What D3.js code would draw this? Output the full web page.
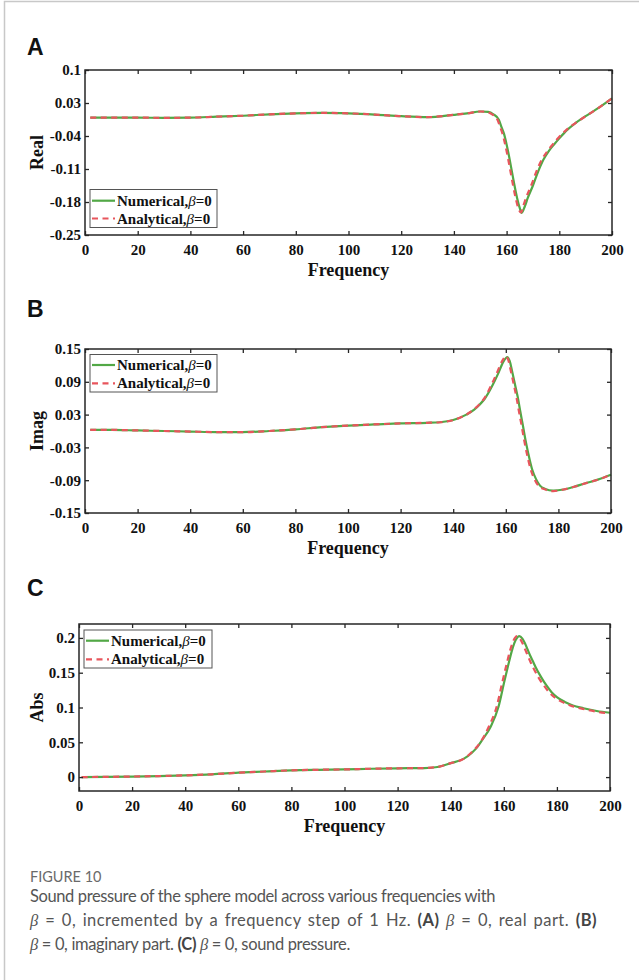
<!DOCTYPE html>
<html>
<head>
<meta charset="utf-8">
<script src="https://cdn.jsdelivr.net/npm/d3@7"></script>
<style>
  html, body { margin: 0; padding: 0; background: #fff; }
  svg { display: block; }
</style>
</head>
<body>
<svg id="chart" width="639" height="980"></svg>
<script>
// ---------------- DATA ----------------
const xTicks = [0, 20, 40, 60, 80, 100, 120, 140, 160, 180, 200];
const realTicks = [0.1, 0.03, -0.04, -0.11, -0.18, -0.25];
const imagTicks = [0.15, 0.09, 0.03, -0.03, -0.09, -0.15];
const absTicks = [0, 0.05, 0.1, 0.15, 0.2];
const seriesNames = ["Numerical,", "Analytical,"];

// Panel A: real part
const freqRealNum = [2,10,20,30,40,50,60,70,80,90,100,110,120,130,140,145,150,153,155,157,158,159,160,161,162,163,164,165,165.7,167,168,170,172,174,176,178,180,183,186,190,195,200];
const realNum = [-0.001,-0.001,-0.001,-0.0015,-0.001,0.001,0.003,0.006,0.008,0.009,0.008,0.0055,0.002,0.0,0.005,0.008,0.012,0.011,0.006,-0.005,-0.02,-0.035,-0.058,-0.085,-0.115,-0.145,-0.172,-0.193,-0.203,-0.188,-0.172,-0.145,-0.115,-0.09,-0.072,-0.058,-0.045,-0.027,-0.013,0.002,0.02,0.04];
const freqRealAna = [2,10,20,30,40,50,60,70,80,90,100,110,120,130,140,145,150,152.5,154.5,156.5,157.5,158.5,159.5,160.5,161.5,162.5,163.5,164.5,165.5,166.4,167.4,169.4,171.4,173.4,175.5,177.5,179.5,182.7,186,190,195,200];
const realAna = [-0.001,-0.001,-0.001,-0.0015,-0.001,0.001,0.003,0.006,0.008,0.009,0.008,0.0055,0.002,0.0,0.005,0.008,0.012,0.011,0.006,-0.005,-0.02,-0.036,-0.059,-0.086,-0.116,-0.146,-0.173,-0.194,-0.202,-0.187,-0.171,-0.144,-0.114,-0.09,-0.072,-0.058,-0.045,-0.027,-0.013,0.002,0.02,0.04];

// Panel B: imaginary part
const freqImagNum = [2,10,20,30,40,50,60,70,80,90,100,110,120,130,135,140,145,148,150,152,155,157,159,160.6,161.5,162.5,163.5,164.5,165.5,166.5,167.5,168.5,170,171.5,173,175,178,182,186,190,195,200];
const imagNum = [0.002,0.002,0.001,0.0,-0.001,-0.002,-0.002,0.0,0.003,0.007,0.010,0.012,0.014,0.015,0.016,0.020,0.030,0.039,0.048,0.059,0.084,0.104,0.126,0.135,0.128,0.107,0.085,0.063,0.036,0.010,-0.017,-0.040,-0.070,-0.088,-0.100,-0.106,-0.109,-0.107,-0.102,-0.096,-0.089,-0.080];
const freqImagAna = [2,10,20,30,40,50,60,70,80,90,100,110,120,130,135,140,145,148,150,152,154.5,156.5,158.5,160.1,161,162,163,164,165,166,167,168,169.5,171,172.6,175,178,182,186,190,195,200];
const imagAna = [0.002,0.002,0.001,0.0,-0.001,-0.002,-0.002,0.0,0.003,0.007,0.010,0.012,0.014,0.015,0.016,0.020,0.030,0.040,0.049,0.061,0.084,0.105,0.127,0.137,0.129,0.108,0.086,0.063,0.036,0.010,-0.017,-0.041,-0.071,-0.089,-0.101,-0.107,-0.110,-0.107,-0.102,-0.096,-0.089,-0.080];

// Panel C: absolute value
const freqAbsNum = [1,10,20,30,40,50,60,70,80,90,100,110,120,130,135,140,145,148,150,152,155,158,160,162,163,164,165,165.8,167,168,169,170,171,172,174,176,178,180,183,186,190,195,200];
const absNum = [0.0,0.0003,0.0008,0.0015,0.0025,0.004,0.0063,0.008,0.0097,0.0105,0.011,0.012,0.0126,0.013,0.0145,0.020,0.0265,0.035,0.043,0.054,0.072,0.101,0.134,0.166,0.181,0.193,0.200,0.2025,0.199,0.192,0.183,0.174,0.166,0.158,0.144,0.132,0.122,0.115,0.108,0.103,0.099,0.095,0.0925];
const freqAbsAna = [1,10,20,30,40,50,60,70,80,90,100,110,120,130,135,140,145,148,150,152,154.3,157.3,159.3,161.3,162.3,163.3,164.2,165,166.1,167.1,168.1,169.1,170.1,171.1,173.1,175.2,177.3,179.3,182.5,185.7,189.8,195,200];
const absAna = [0.0,0.0003,0.0008,0.0015,0.0025,0.004,0.0063,0.008,0.0097,0.0105,0.011,0.012,0.0126,0.013,0.0145,0.020,0.0265,0.036,0.044,0.055,0.072,0.101,0.134,0.166,0.181,0.193,0.200,0.2025,0.199,0.192,0.183,0.174,0.165,0.157,0.143,0.131,0.121,0.114,0.107,0.102,0.098,0.094,0.0915];

// ---------------- DRAWING ----------------
const svg = d3.select("#chart");
const GREEN = "#52a846";
const RED = "#e8555c";
const AXIS = "#262626";
const serif = "'Liberation Serif', 'Times New Roman', serif";

// outer frame
svg.append("rect").attr("x", 4.5).attr("y", 1.5).attr("width", 700).attr("height", 1000)
  .attr("fill", "none").attr("stroke", "#c8c8c8").attr("stroke-width", 1.5);

function panel(o) {
  const g = svg.append("g");
  const x = d3.scaleLinear().domain([0, 200]).range([o.l, o.r]);
  const y = d3.scaleLinear().domain(o.yDom).range([o.b, o.t]);

  // panel letter
  g.append("text").attr("x", 27).attr("y", o.letterY).text(o.letter)
    .attr("font-family", "'Liberation Sans', Arial, sans-serif").attr("font-weight", "bold")
    .attr("font-size", 23).attr("fill", "#111");

  const line = d3.line().x(d => x(d[0])).y(d => y(d[1])).curve(d3.curveMonotoneX);
  const numPts = o.fNum.map((f, i) => [f, o.vNum[i]]);
  const anaPts = o.fAna.map((f, i) => [f, o.vAna[i]]);

  g.append("path").attr("d", line(numPts)).attr("fill", "none")
    .attr("stroke", GREEN).attr("stroke-width", 2.2);
  g.append("path").attr("d", line(anaPts)).attr("fill", "none")
    .attr("stroke", RED).attr("stroke-width", 2.2).attr("stroke-dasharray", "6,4.5");

  const styleAxis = sel => {
    sel.select(".domain").remove();
    sel.selectAll(".tick line").attr("stroke", AXIS).attr("stroke-width", 1.3);
    sel.selectAll("text").attr("font-family", serif).attr("font-weight", "bold")
      .attr("font-size", 15).attr("fill", "#111");
  };

  g.append("g").attr("transform", `translate(0,${o.b})`)
    .call(d3.axisBottom(x).tickValues(xTicks).tickSizeInner(-4).tickSizeOuter(0).tickPadding(9).tickFormat(d => String(d)))
    .call(styleAxis);
  g.append("g").attr("transform", `translate(0,${o.t})`)
    .call(d3.axisTop(x).tickValues(xTicks).tickSizeInner(-4).tickSizeOuter(0).tickFormat(""))
    .call(styleAxis);
  g.append("g").attr("transform", `translate(${o.l},0)`)
    .call(d3.axisLeft(y).tickValues(o.yTicks).tickSizeInner(-4).tickSizeOuter(0).tickPadding(4).tickFormat(d => String(d)))
    .call(styleAxis);
  g.append("g").attr("transform", `translate(${o.r},0)`)
    .call(d3.axisRight(y).tickValues(o.yTicks).tickSizeInner(-4).tickSizeOuter(0).tickFormat(""))
    .call(styleAxis);

  // box
  g.append("rect").attr("x", o.l).attr("y", o.t).attr("width", o.r - o.l).attr("height", o.b - o.t)
    .attr("fill", "none").attr("stroke", AXIS).attr("stroke-width", 1.5);

  // axis titles
  g.append("text").attr("x", (o.l + o.r) / 2).attr("y", o.b + 41).attr("text-anchor", "middle")
    .attr("font-family", serif).attr("font-weight", "bold").attr("font-size", 18).attr("fill", "#111")
    .text("Frequency");
  g.append("text").attr("transform", `translate(43,${(o.t + o.b) / 2}) rotate(-90)`)
    .attr("text-anchor", "middle")
    .attr("font-family", serif).attr("font-weight", "bold").attr("font-size", 18).attr("fill", "#111")
    .text(o.yLabel);

  // legend
  const L = o.legend;
  g.append("rect").attr("x", L.x).attr("y", L.y).attr("width", L.w).attr("height", L.h)
    .attr("fill", "#fff").attr("stroke", "#555").attr("stroke-width", 1);
  const rows = [
    { name: seriesNames[0], color: GREEN, dash: null, cy: L.r1 },
    { name: seriesNames[1], color: RED, dash: "6,4.5", cy: L.r2 }
  ];
  rows.forEach(r => {
    g.append("line").attr("x1", L.x + 2).attr("x2", L.x + 25).attr("y1", r.cy).attr("y2", r.cy)
      .attr("stroke", r.color).attr("stroke-width", 2.2).attr("stroke-dasharray", r.dash);
    const t = g.append("text").attr("x", L.x + 27).attr("y", r.cy + 5)
      .attr("font-family", serif).attr("font-weight", "bold").attr("font-size", 15).attr("fill", "#111");
    t.append("tspan").text(r.name);
    t.append("tspan").attr("font-style", "italic").attr("font-weight", "normal").text("β");
    t.append("tspan").text("=0");
  });
}

panel({ letter: "A", letterY: 55, l: 85, r: 612, t: 70, b: 235, yDom: [-0.25, 0.1], yTicks: realTicks,
  yLabel: "Real", fNum: freqRealNum, vNum: realNum, fAna: freqRealAna, vAna: realAna,
  legend: { x: 90, y: 189.5, w: 127, h: 38, r1: 200.7, r2: 218.5 } });
panel({ letter: "B", letterY: 317, l: 85, r: 611, t: 349, b: 513, yDom: [-0.15, 0.15], yTicks: imagTicks,
  yLabel: "Imag", fNum: freqImagNum, vNum: imagNum, fAna: freqImagAna, vAna: imagAna,
  legend: { x: 90, y: 354.5, w: 127, h: 37.5, r1: 365, r2: 383.3 } });
panel({ letter: "C", letterY: 596, l: 79, r: 610, t: 624, b: 791, yDom: [-0.02, 0.22], yTicks: absTicks,
  yLabel: "Abs", fNum: freqAbsNum, vNum: absNum, fAna: freqAbsAna, vAna: absAna,
  legend: { x: 84, y: 630, w: 128, h: 38, r1: 640.7, r2: 659.3 } });

// ---------------- CAPTION ----------------
const capFont = "Lato, 'Open Sans', sans-serif";
svg.append("text").attr("x", 30).attr("y", 882).attr("font-family", capFont)
  .attr("font-size", 14.5).attr("fill", "#6a6a6a").text("FIGURE 10");

const capLines = [
  { y: 902, w: 465, parts: [["Sound pressure of the sphere model across various frequencies with", ""]] },
  { y: 926, w: 567, parts: [["β", "i"], [" = 0, incremented by a frequency step of 1 Hz. ", ""], ["(A)", "b"], [" ", ""], ["β", "i"], [" = 0, real part. ", ""], ["(B)", "b"]] },
  { y: 950, w: 320, parts: [["β", "i"], [" = 0, imaginary part. ", ""], ["(C)", "b"], [" ", ""], ["β", "i"], [" = 0, sound pressure.", ""]] }
];
capLines.forEach(l => {
  const t = svg.append("text").attr("x", 30).attr("y", l.y).attr("font-family", capFont)
    .attr("font-size", 16.5).attr("fill", "#555");
  l.parts.forEach(p => {
    const s = t.append("tspan").text(p[0]);
    if (p[1] === "i") s.attr("font-family", serif).attr("font-style", "italic");
    if (p[1] === "b") s.attr("font-weight", "bold").attr("fill", "#444");
  });
  // fit the line to its measured width: tighten letters if too wide,
  // otherwise share the extra room between letter and word spacing
  const natural = t.node().getComputedTextLength();
  const txt = l.parts.map(p => p[0]).join("");
  const diff = l.w - natural;
  if (diff < 0) {
    t.attr("letter-spacing", (diff / txt.length).toFixed(3));
  } else {
    const spaces = (txt.match(/ /g) || []).length;
    t.attr("letter-spacing", (diff * 0.5 / txt.length).toFixed(3));
    t.attr("word-spacing", (diff * 0.5 / Math.max(spaces, 1)).toFixed(3));
  }
});
</script>
</body>
</html>
